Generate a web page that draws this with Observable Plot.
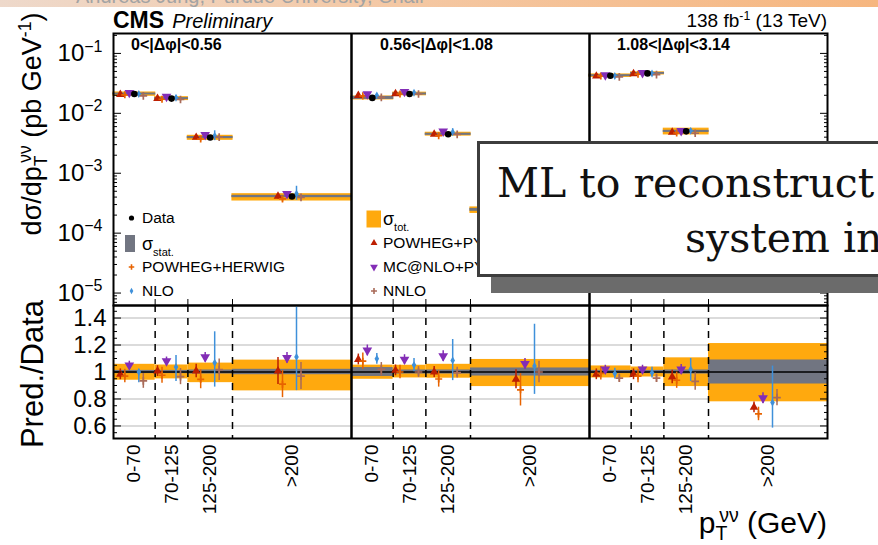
<!DOCTYPE html>
<html><head><meta charset="utf-8">
<script src="https://cdn.jsdelivr.net/npm/d3@7"></script>
<script src="https://cdn.jsdelivr.net/npm/@observablehq/plot@0.6"></script>
<style>
html,body{margin:0;padding:0;background:#fff;overflow:hidden;}
#root{position:relative;width:878px;height:545px;overflow:hidden;font-family:"Liberation Sans",Arial,Helvetica,sans-serif;color:#000;}
.abs{position:absolute;white-space:nowrap;}
.rot{position:absolute;white-space:nowrap;line-height:1;transform:translate(-50%,-50%) rotate(-90deg);}
sub,sup{font-size:0.65em;line-height:0;}
#banner{position:absolute;left:0;top:0;width:878px;height:7px;overflow:hidden;background:linear-gradient(to right,#eed9cb,#f4c8a4 45%,#f6b67f);z-index:1;}
#bannertext{position:absolute;left:76px;top:-14px;font-size:20px;line-height:20px;color:#a3a3a3;white-space:nowrap;}
#mlbox{position:absolute;left:477px;top:141px;width:640px;height:136px;box-sizing:border-box;border:3px solid #3d3d3d;background:#fff;box-shadow:14px 16px 0 #6b6b6b;z-index:5;}
.ml{position:absolute;white-space:nowrap;font-family:"DejaVu Serif",serif;font-size:41px;line-height:41px;color:#111;z-index:6;}
</style></head>
<body><div id="root">
<div id="banner"><div id="bannertext">Andreas Jung, Purdue University, Chair</div></div>
<div id="topplot" class="abs" style="left:0;top:0;"></div>
<div id="botplot" class="abs" style="left:0;top:290px;"></div>
<div class="abs" style="left:113px;top:7px;line-height:26px;"><b style="font-size:23px;">CMS</b><i style="font-size:20px;margin-left:8px;">Preliminary</i></div>
<div class="abs" style="right:51px;top:8px;line-height:26px;font-size:19px;">138 fb<sup>-1</sup> (13 TeV)</div>
<div id="plabels"></div>
<div class="rot" style="left:32px;top:124px;font-size:27px;">dσ/dp<sub>T</sub><sup style="margin-left:-0.42em;">νν</sup> (pb GeV<sup>-1</sup>)</div>
<div class="rot" style="left:32px;top:374px;font-size:31px;">Pred./Data</div>
<div class="abs" style="right:51px;top:506px;font-size:30px;line-height:34px;">p<sub>T</sub><sup style="margin-left:-0.42em;">νν</sup> (GeV)</div>
<div id="mlbox"></div>
<div class="ml" style="left:497px;top:163px;">ML to reconstruct di-neutrino</div>
<div class="ml" style="left:685px;top:218px;">system in the Z boson decays</div>
</div>
<script>
// ---------------- data ----------------
const dphiBins = ["0<|Δφ|<0.56", "0.56<|Δφ|<1.08", "1.08<|Δφ|<3.14"];
const ptBinLabels = ["0-70", "70-125", "125-200", ">200"];
const ptBinEdges = [0, 70, 125, 200, 400];
// measured dσ/dpT (pb/GeV), ordered Δφ bin × pT bin
const dataXsec = [0.0210, 0.0176, 0.00394, 0.000409, 0.0181, 0.0210, 0.00447, 0.000245, 0.0425, 0.0464, 0.0050, 0.00030];
// relative uncertainties
const totUp = [0.057, 0.052, 0.066, 0.088, 0.051, 0.050, 0.057, 0.093, 0.045, 0.037, 0.105, 0.211];
const totDn = [0.061, 0.051, 0.079, 0.140, 0.054, 0.044, 0.046, 0.108, 0.044, 0.037, 0.108, 0.221];
const statErr = [0.012, 0.012, 0.015, 0.020, 0.033, 0.015, 0.015, 0.030, 0.012, 0.012, 0.015, 0.089];
// predictions / data
const powhegPythia = [0.983, 1.007, 1.007, 1.007, 1.093, 1.012, 1.000, 0.946, 0.983, 0.983, 0.963, 0.738];
const powhegPythiaErr = [0.040, 0.040, 0.050, 0.100, 0.040, 0.040, 0.040, 0.070, 0.040, 0.040, 0.050, 0.040];
const powhegHerwig = [0.970, 0.976, 0.946, 0.910, 1.080, 1.000, 0.948, 0.868, 0.990, 0.970, 0.939, 0.689];
const powhegHerwigErr = [0.050, 0.060, 0.070, 0.100, 0.060, 0.050, 0.060, 0.120, 0.050, 0.050, 0.060, 0.050];
const mcatnloPythia = [1.050, 1.081, 1.110, 1.105, 1.160, 1.093, 1.118, 1.061, 1.020, 1.020, 1.020, 0.807];
const mcatnloPythiaErr = [0.030, 0.030, 0.035, 0.040, 0.040, 0.035, 0.040, 0.040, 0.030, 0.030, 0.035, 0.040];
const nlo = [1.000, 1.037, 1.068, 1.112, 1.098, 1.051, 1.086, 1.044, 0.988, 0.995, 1.020, 0.774];
const nloErrUp = [0.020, 0.086, 0.230, 0.370, 0.040, 0.050, 0.155, 0.310, 0.040, 0.040, 0.080, 0.270];
const nloErrDn = [0.080, 0.108, 0.180, 0.250, 0.040, 0.050, 0.150, 0.210, 0.040, 0.040, 0.090, 0.190];
const nnlo = [0.934, 0.966, 1.017, 0.970, 1.020, 1.000, 0.995, 1.000, 0.954, 0.954, 0.930, 0.810];
const nnloErr = [0.055, 0.060, 0.080, 0.100, 0.050, 0.040, 0.040, 0.080, 0.030, 0.030, 0.065, 0.060];
const topTicks = [1e-5, 1e-4, 1e-3, 1e-2, 1e-1];
const ratioTicks = [0.6, 0.8, 1, 1.2, 1.4];

// ---------------- build tables ----------------
const span = ptBinEdges[ptBinEdges.length - 1];
const rows = dataXsec.map((v, i) => {
  const p = Math.floor(i / 4), b = i % 4, off = p * span;
  return {i, panel: dphiBins[p], bin: ptBinLabels[b],
    x1: off + ptBinEdges[b], x2: off + ptBinEdges[b + 1],
    xc: off + (ptBinEdges[b] + ptBinEdges[b + 1]) / 2, data: v};
});
const panelEdges = dphiBins.slice(1).map((_, p) => (p + 1) * span);
const interiorEdges = dphiBins.flatMap((_, p) => ptBinEdges.slice(1, -1).map(e => p * span + e));
const centers = rows.map(r => r.xc);
const labelMap = new Map(rows.map(r => [r.xc, r.bin]));

const sqrt3 = Math.sqrt(3);
const triangleDown = {draw(ctx, size) {
  const y = Math.sqrt(size / (sqrt3 * 3));
  ctx.moveTo(0, 2 * y); ctx.lineTo(-sqrt3 * y, -y); ctx.lineTo(sqrt3 * y, -y); ctx.closePath();
}};
const models = [
  {key: "POWHEG+PYTHIA", ratio: powhegPythia, up: powhegPythiaErr, dn: powhegPythiaErr, color: "#bd1f01", symbol: "triangle", filled: true, r: 3.2, dx: -14},
  {key: "POWHEG+HERWIG", ratio: powhegHerwig, up: powhegHerwigErr, dn: powhegHerwigErr, color: "#e76300", symbol: "plus", filled: false, r: 2.4, dx: -9.5},
  {key: "MC@NLO+PYTHIA", ratio: mcatnloPythia, up: mcatnloPythiaErr, dn: mcatnloPythiaErr, color: "#832db6", symbol: triangleDown, filled: true, r: 3.6, dx: -5},
  {key: "NLO", ratio: nlo, up: nloErrUp, dn: nloErrDn, color: "#3f90da", symbol: "diamond", filled: true, r: 2.4, dx: 4.5},
  {key: "NNLO", ratio: nnlo, up: nnloErr, dn: nnloErr, color: "#a96b59", symbol: "plus", filled: false, r: 2.6, dx: 9}
];
function modelMarks(scale) {
  return models.flatMap(m => [
    Plot.ruleX(rows, {x: "xc", y1: d => scale(d) * (m.ratio[d.i] - m.dn[d.i]), y2: d => scale(d) * (m.ratio[d.i] + m.up[d.i]), stroke: m.color, strokeWidth: 1.5, dx: m.dx}),
    Plot.dot(rows, {x: "xc", y: d => scale(d) * m.ratio[d.i], symbol: m.symbol, r: m.r,
      fill: m.filled ? m.color : "none", stroke: m.filled ? "none" : m.color, strokeWidth: 1.7, dx: m.dx})
  ]);
}
const font = "'Liberation Sans', Arial, Helvetica, sans-serif";
const xScale = {domain: [0, dphiBins.length * span], axis: null};

// minor ticks
const topDomain = [6.2e-6, 0.215];
const topMinor = [];
for (let k = -6; k <= -1; k++) for (let m = 2; m <= 9; m++) { const v = m * Math.pow(10, k); if (v > topDomain[0] && v < topDomain[1]) topMinor.push(v); }
const ratioMinor = [0.55, 0.65, 0.7, 0.75, 0.85, 0.9, 0.95, 1.05, 1.1, 1.15, 1.25, 1.3, 1.35, 1.45];
const blank = () => "";

// ---------------- top panel ----------------
const topSvg = Plot.plot({
  width: 878, height: 310, marginLeft: 113, marginRight: 51, marginTop: 33, marginBottom: 5,
  style: {fontFamily: font, background: "transparent", overflow: "visible"},
  x: xScale,
  y: {type: "log", domain: topDomain, axis: null, label: null},
  marks: [
    Plot.rect(rows, {x1: "x1", x2: "x2", y1: d => d.data * (1 - totDn[d.i]), y2: d => d.data * (1 + totUp[d.i]), fill: "#ffa90e", stroke: "#ffa90e", strokeWidth: 1.2}),
    Plot.rect(rows, {x1: "x1", x2: "x2", y1: d => d.data * (1 - statErr[d.i]), y2: d => d.data * (1 + statErr[d.i]), fill: "#717581", stroke: "#717581", strokeWidth: 1.3}),
    ...modelMarks(d => d.data),
    Plot.dot(rows, {x: "xc", y: "data", fill: "black", r: 3.3}),
    Plot.ruleX(panelEdges, {stroke: "black", strokeWidth: 2.5}),
    Plot.frame({stroke: "black", strokeWidth: 2}),
    Plot.axisY({anchor: "left", ticks: topTicks, tickSize: -8, tickPadding: 19, fontSize: 24, tickFormat: d => String(Math.round(Math.log10(d))).replace("-", "−"), label: null}),
    Plot.axisY({anchor: "left", ticks: topMinor, tickSize: -4, tickFormat: blank, label: null}),
    Plot.axisY({anchor: "right", ticks: topTicks, tickSize: -8, tickFormat: blank, label: null}),
    Plot.axisY({anchor: "right", ticks: topMinor, tickSize: -4, tickFormat: blank, label: null}),
    Plot.axisX({anchor: "bottom", ticks: interiorEdges, tickSize: -6, tickFormat: blank, label: null})
  ]
});
topSvg.querySelectorAll('g[aria-label="y-axis tick label"] text').forEach(t => {
  const s = t.textContent; if (!s) return;
  t.textContent = "10";
  const ts = document.createElementNS("http://www.w3.org/2000/svg", "tspan");
  ts.setAttribute("dy", "-0.6em"); ts.setAttribute("font-size", "16"); ts.textContent = s;
  t.appendChild(ts);
});
document.getElementById("topplot").appendChild(topSvg);

// ---------------- ratio panel ----------------
const botSvg = Plot.plot({
  width: 878, height: 255, marginLeft: 113, marginRight: 51, marginTop: 15, marginBottom: 107,
  style: {fontFamily: font, background: "transparent", overflow: "visible"},
  x: xScale,
  y: {domain: [0.507, 1.493], axis: null, label: null},
  marks: [
    Plot.ruleY(ratioTicks.filter(v => v !== 1), {stroke: "#cfcfcf", strokeWidth: 1.5}),
    Plot.rect(rows, {x1: "x1", x2: "x2", y1: d => 1 - totDn[d.i], y2: d => 1 + totUp[d.i], fill: "#ffa90e"}),
    Plot.rect(rows, {x1: "x1", x2: "x2", y1: d => 1 - statErr[d.i], y2: d => 1 + statErr[d.i], fill: "#717581"}),
    Plot.ruleY([1], {stroke: "black", strokeWidth: 1.5}),
    Plot.ruleX(interiorEdges, {stroke: "black", strokeWidth: 1.5, strokeDasharray: "7,6"}),
    Plot.ruleX(panelEdges, {stroke: "black", strokeWidth: 2.5}),
    ...modelMarks(() => 1),
    Plot.frame({stroke: "black", strokeWidth: 2}),
    Plot.axisY({anchor: "left", ticks: ratioTicks, tickSize: -8, tickPadding: 15, fontSize: 24, tickFormat: d => d === 1 ? "1" : d.toFixed(1), label: null}),
    Plot.axisY({anchor: "left", ticks: ratioMinor, tickSize: -4, tickFormat: blank, label: null}),
    Plot.axisY({anchor: "right", ticks: ratioTicks, tickSize: -8, tickFormat: blank, label: null}),
    Plot.axisY({anchor: "right", ticks: ratioMinor, tickSize: -4, tickFormat: blank, label: null}),
    Plot.axisX({anchor: "bottom", ticks: centers, tickSize: 0, tickPadding: 6, tickRotate: -90, fontSize: 19, tickFormat: d => labelMap.get(d), label: null})
  ]
});
document.getElementById("botplot").appendChild(botSvg);

// ---------------- panel labels ----------------
const plabelLeft = [131, 380, 617];
const pl = document.getElementById("plabels");
dphiBins.forEach((t, p) => {
  const d = document.createElement("div");
  d.className = "abs";
  d.style.cssText = `left:${plabelLeft[p]}px;top:35px;font-size:16px;line-height:20px;font-weight:bold;`;
  d.textContent = t; pl.appendChild(d);
});

// ---------------- legend ----------------
const ov = d3.select("#root").append("svg").attr("width", 878).attr("height", 545)
  .style("position", "absolute").style("left", 0).style("top", 0).style("z-index", 3)
  .style("font-family", font);
const legendEntries = [
  {label: "Data", sub: null, kind: "data", col: 0, row: 0},
  {label: "σ", sub: "stat.", kind: "stat", col: 0, row: 1},
  {label: "POWHEG+HERWIG", sub: null, kind: "POWHEG+HERWIG", col: 0, row: 2},
  {label: "NLO", sub: null, kind: "NLO", col: 0, row: 3},
  {label: "σ", sub: "tot.", kind: "tot", col: 1, row: 0},
  {label: "POWHEG+PYTHIA", sub: null, kind: "POWHEG+PYTHIA", col: 1, row: 1},
  {label: "MC@NLO+PYTHIA", sub: null, kind: "MC@NLO+PYTHIA", col: 1, row: 2},
  {label: "NNLO", sub: null, kind: "NNLO", col: 1, row: 3}
];
const colText = [142, 383], colSym = [131.5, 374];
const rowY = [[218, 244, 267, 291], [219, 243, 267, 291]];
const symMap = {triangle: d3.symbolTriangle, plus: d3.symbolPlus, diamond: d3.symbolDiamond};
legendEntries.forEach(e => {
  const cx = colSym[e.col], cy = rowY[e.col][e.row];
  if (e.kind === "data") ov.append("circle").attr("cx", cx).attr("cy", cy).attr("r", 2.6).attr("fill", "black");
  else if (e.kind === "stat") ov.append("rect").attr("x", 125).attr("y", cy - 9).attr("width", 10).attr("height", 17).attr("fill", "#717581");
  else if (e.kind === "tot") ov.append("rect").attr("x", cx - 7.5).attr("y", cy - 8.5).attr("width", 14.5).attr("height", 17).attr("fill", "#ffa90e");
  else {
    const m = models.find(mm => mm.key === e.kind);
    const type = typeof m.symbol === "string" ? symMap[m.symbol] : m.symbol;
    const rr = m.r * 0.8;
    ov.append("path").attr("transform", `translate(${cx},${cy})`)
      .attr("d", d3.symbol(type, rr * rr * Math.PI)())
      .attr("fill", m.filled ? m.color : "none").attr("stroke", m.filled ? "none" : m.color).attr("stroke-width", 1.6);
  }
  const t = ov.append("text").attr("x", colText[e.col]).attr("y", cy).attr("dy", "0.35em")
    .attr("font-size", e.sub ? 18 : 15.5).text(e.label);
  if (e.sub) t.append("tspan").attr("dy", 6).attr("font-size", 11).text(e.sub);
});
</script>
</body></html>
